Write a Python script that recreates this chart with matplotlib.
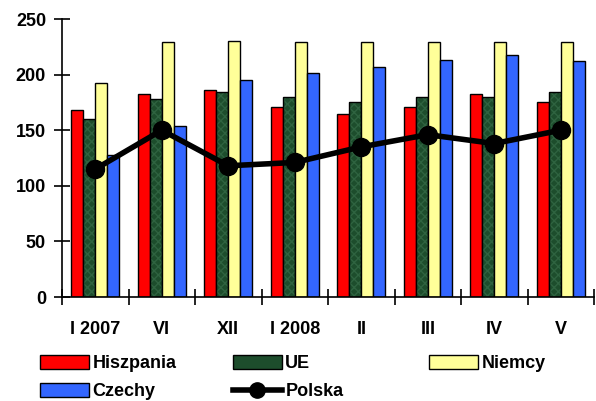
import numpy as np
from matplotlib import pyplot as plt
from matplotlib.lines import Line2D
from matplotlib.patches import Patch

plt.rcParams['font.family'] = ['Liberation Sans', 'DejaVu Sans']
plt.rcParams['font.weight'] = 'bold'
plt.rcParams['font.size'] = 13

# DATA
months = ["I 2007", "VI", "XII", "I 2008", "II", "III", "IV", "V"]
hiszpania = [168, 183, 186, 171, 165, 171, 183, 175]
ue = [160, 178, 184, 180, 175, 180, 180, 184]
niemcy = [192, 229, 230, 229, 229, 229, 229, 229]
czechy = [128, 154, 195, 201, 207, 213, 218, 212]
polska = [115, 150, 118, 121, 135, 146, 138, 150]

RED = "#ff0000"
GREEN = "#1d4d2c"
YELLOW = "#ffff99"
BLUE = "#3366ff"

fig = plt.figure(figsize=(5.96, 4.01), dpi=100)
ax = fig.add_axes([62 / 596, 104 / 401, 532 / 596, 278 / 401])

x = np.arange(len(months))
w = 0.18
edge = dict(edgecolor="black", linewidth=1.0)

ax.bar(x - 1.5 * w, hiszpania, w, color=RED, **edge, zorder=2)
# green bars get a fine texture, outline drawn separately on top
ax.bar(x - 0.5 * w, ue, w, color=GREEN, edgecolor="#2f6340", hatch="xxxx", linewidth=0, zorder=2)
ax.bar(x - 0.5 * w, ue, w, fill=False, **edge, zorder=2)
ax.bar(x + 0.5 * w, niemcy, w, color=YELLOW, **edge, zorder=2)
ax.bar(x + 1.5 * w, czechy, w, color=BLUE, **edge, zorder=2)

ax.plot(x, polska, color="black", linewidth=4, marker="o", markersize=13, zorder=3)

ax.set_xlim(-0.5, len(months) - 0.5)
ax.set_ylim(0, 250)
ax.set_yticks(range(0, 251, 50))

ax.set_xticks(x)
ax.set_xticklabels(months)
ax.set_xticks(np.arange(-0.5, len(months)), minor=True)
ax.tick_params(axis="x", which="major", length=0, pad=17)
ax.tick_params(axis="x", which="minor", direction="inout", length=11, width=1.2)
ax.tick_params(axis="y", direction="inout", length=11, width=1.2, pad=6)

for side in ["top", "right"]:
    ax.spines[side].set_visible(False)
for side in ["left", "bottom"]:
    ax.spines[side].set_linewidth(1.2)

# LEGEND - three columns placed individually
leg_kw = dict(frameon=False, borderpad=0, borderaxespad=0, handlelength=2.7, handleheight=0.8,
              handletextpad=0.2, labelspacing=0.6, loc="upper left", fontsize=13)

polska_handle = Line2D([0], [0], color="black", linewidth=4, marker="o", markersize=11)
col1 = [Patch(facecolor=RED, **edge), Patch(facecolor=BLUE, **edge)]
col2 = [Patch(facecolor=GREEN, edgecolor="black", linewidth=1.0), polska_handle]
col3 = [Patch(facecolor=YELLOW, **edge)]

top = 1 - 355 / 401
fig.legend(col1, ["Hiszpania", "Czechy"], bbox_to_anchor=(40 / 596, top), **leg_kw)
fig.legend(col2, ["UE", "Polska"], bbox_to_anchor=(233 / 596, top), **leg_kw)
fig.legend(col3, ["Niemcy"], bbox_to_anchor=(429 / 596, top), **leg_kw)

fig.savefig("out.png", dpi=100)
